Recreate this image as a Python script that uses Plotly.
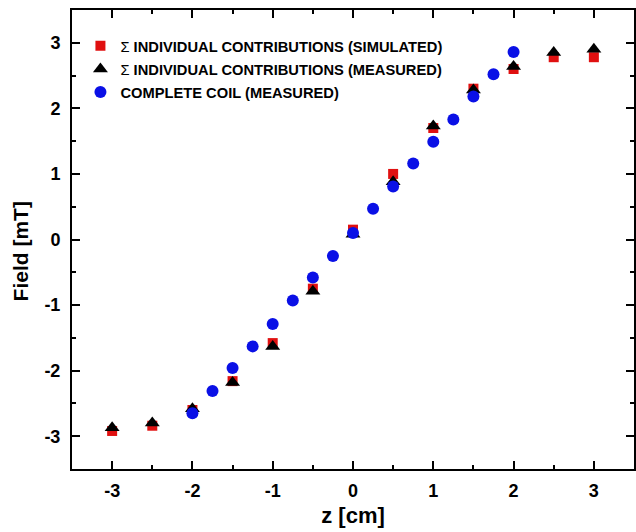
import plotly.graph_objects as go

z_sum = [-3, -2.5, -2, -1.5, -1, -0.5, 0, 0.5, 1, 1.5, 2, 2.5, 3]
sim_vals = [-2.92, -2.84, -2.60, -2.16, -1.58, -0.75, 0.15, 1.00, 1.70, 2.30, 2.60, 2.78, 2.78]
meas_vals = [-2.87, -2.80, -2.58, -2.18, -1.63, -0.79, 0.08, 0.88, 1.73, 2.28, 2.64, 2.85, 2.90]
z_coil = [-2, -1.75, -1.5, -1.25, -1, -0.75, -0.5, -0.25, 0, 0.25, 0.5, 0.75, 1, 1.25, 1.5, 1.75, 2]
coil_vals = [-2.65, -2.31, -1.96, -1.63, -1.29, -0.93, -0.58, -0.25, 0.10, 0.47, 0.81, 1.16, 1.49, 1.83, 2.18, 2.52, 2.86]

tick_vals = [-3, -2, -1, 0, 1, 2, 3]
tick_text = ["-3", "-2", "-1", "0", "1", "2", "3"]

names = [
    "<span style='font-weight:normal'>Σ</span> INDIVIDUAL CONTRIBUTIONS (SIMULATED)",
    "<span style='font-weight:normal'>Σ</span> INDIVIDUAL CONTRIBUTIONS (MEASURED)",
    "COMPLETE COIL (MEASURED)",
]

fig = go.Figure()
fig.add_trace(go.Scatter(x=z_sum, y=sim_vals, mode="markers", name=names[0], legendgroup="a",
                         marker=dict(symbol="square", size=10, color="#e01010")))
fig.add_trace(go.Scatter(x=z_sum, y=meas_vals, mode="markers", name=names[1], legendgroup="b",
                         marker=dict(symbol="triangle-up", size=13, color="black")))
fig.add_trace(go.Scatter(x=z_coil, y=coil_vals, mode="markers", name=names[2], legendgroup="c",
                         marker=dict(symbol="circle", size=12, color="#0a10e6")))

axis_common = dict(
    showgrid=False, zeroline=False, showline=True, linecolor="black", linewidth=2,
    mirror="allticks", ticks="inside", ticklen=8, tickwidth=2, tickcolor="black",
    tickfont=dict(size=18, color="black", family="Liberation Sans, Arial", weight="bold"),
    tickmode="array", tickvals=tick_vals, ticktext=tick_text,
    minor=dict(dtick=0.5, tick0=0, ticks="inside", ticklen=4, tickwidth=2, tickcolor="black"),
)

fig.update_layout(
    width=636, height=532,
    margin=dict(l=72, r=0, t=10, b=63),
    paper_bgcolor="white", plot_bgcolor="white",
    font=dict(family="Liberation Sans, Arial", color="black", weight="bold"),
    xaxis=dict(range=[-3.5, 3.5],
               title=dict(text="z [cm]", font=dict(size=22, weight="bold"), standoff=8),
               ticklabelstandoff=4,
               **axis_common),
    yaxis=dict(range=[-3.5, 3.5], ticklabelstandoff=6, **axis_common),
    annotations=[dict(text="Field [mT]", textangle=-90, xref="paper", yref="paper",
                      x=-0.09, y=0.475, xanchor="center", yanchor="middle",
                      showarrow=False, font=dict(size=21, weight="bold"))],
    legend=dict(x=0.015, y=0.957, xanchor="left", yanchor="top",
                font=dict(size=14.7, weight="bold"), bgcolor="rgba(0,0,0,0)",
                traceorder="grouped", tracegroupgap=1),
    showlegend=True,
)

fig.write_html("out.html")
